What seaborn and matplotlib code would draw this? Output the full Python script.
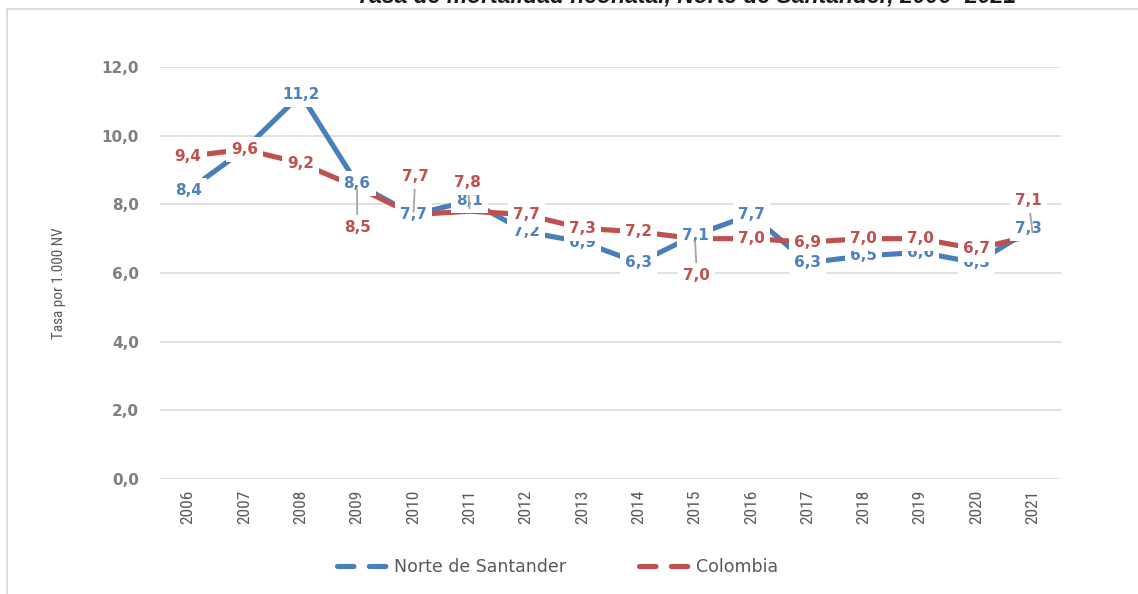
import matplotlib
matplotlib.use("Agg")
import matplotlib.pyplot as plt
from matplotlib.lines import Line2D
from matplotlib import font_manager
import seaborn as sns
import pandas as pd

# ---- data ----
years = [2006, 2007, 2008, 2009, 2010, 2011, 2012, 2013, 2014, 2015,
         2016, 2017, 2018, 2019, 2020, 2021]
norte = [8.4, 9.6, 11.2, 8.6, 7.7, 8.1, 7.2, 6.9, 6.3, 7.1,
         7.7, 6.3, 6.5, 6.6, 6.3, 7.3]
colombia = [9.4, 9.6, 9.2, 8.5, 7.7, 7.8, 7.7, 7.3, 7.2, 7.0,
            7.0, 6.9, 7.0, 7.0, 6.7, 7.1]
series_names = ["Norte de Santander", "Colombia"]
yticks = [0, 2, 4, 6, 8, 10, 12]
title = "Tasa de mortalidad neonatal, Norte de Santander, 2006- 2021"
ylabel = "Tasa por 1.000 NV"

# label offsets (points) - styling
blue_off = {2021: (-3, 0)}
red_off = {2009: (0, -28.8), 2010: (1.4, 27.4), 2011: (-1.4, 20.9),
           2015: (1.4, -26.6), 2021: (-3, 25)}

BLUE = "#4A7EBB"
RED = "#C0504D"
BLUE_T = "#4F81BD"
GRID = "#D9D9D9"

# pick a condensed font if one is installed
narrow_kw = dict(family="DejaVu Sans")
names = {f.name for f in font_manager.fontManager.ttflist}
for cand in ["Liberation Sans Narrow", "Arial Narrow", "Roboto Condensed",
             "DejaVu Sans Condensed", "Open Sans Condensed"]:
    if cand in names:
        narrow_kw = dict(family=cand)
        break
else:
    for f in font_manager.fontManager.ttflist:
        if f.name == "DejaVu Sans" and "condensed" in str(f.stretch).lower():
            narrow_kw = dict(family="DejaVu Sans", stretch="condensed")
            break
        if f.name in ("Roboto", "Open Sans") and "condensed" in str(f.stretch).lower():
            narrow_kw = dict(family=f.name, stretch="condensed")
            break

sns.set_theme(style="white")
plt.rcParams["font.family"] = ["DejaVu Sans"]

df = pd.DataFrame({
    "year": years * 2,
    "valor": norte + colombia,
    "serie": [series_names[0]] * len(years) + [series_names[1]] * len(years),
})

W, H = 1138, 594
fig = plt.figure(figsize=(W / 100, H / 100), dpi=100)
ax = fig.add_axes([160 / W, 1 - 479 / H, (1061 - 160) / W, (479 - 67) / H])

sns.lineplot(data=df, x="year", y="valor", hue="serie",
             palette={series_names[0]: BLUE, series_names[1]: RED},
             hue_order=[series_names[0], series_names[1]],
             linewidth=3.7, legend=False, ax=ax, zorder=3,
             solid_capstyle="butt")

ax.set_xlim(years[0] - 0.5, years[-1] + 0.5)
ax.set_ylim(0, 12)
ax.set_yticks(yticks)
ax.set_yticklabels([f"{v:.1f}".replace(".", ",") for v in yticks],
                   color="#7F7F7F", fontsize=11, fontweight="bold")
ax.set_xticks(years)
ax.set_xticklabels([str(y) for y in years], rotation=90, color="#595959",
                   fontsize=12.5, **narrow_kw)
ax.tick_params(axis="y", length=0, pad=15)
ax.tick_params(axis="x", length=0, pad=8)
ax.grid(axis="y", color=GRID, lw=1.1, zorder=0)
ax.grid(axis="x", visible=False)
for s in ax.spines.values():
    s.set_visible(False)
ax.set_xlabel("")
ax.set_ylabel(ylabel, fontsize=11, color="#595959", **narrow_kw)
ax.yaxis.set_label_coords(-0.104, 0.476)


def fmt(v):
    return f"{v:.1f}".replace(".", ",")


def label(x, v, color, off, z):
    dx, dy = off
    kw = dict(xy=(x, v), xytext=(dx, dy), textcoords="offset points",
              ha="center", va="center", color=color, fontsize=11,
              fontweight="bold", zorder=z,
              bbox=dict(boxstyle="square,pad=0.33", fc="white", ec="none"))
    if abs(dy) > 5:
        kw["arrowprops"] = dict(arrowstyle="-", color="#A6A6A6", lw=1.3,
                                shrinkA=0, shrinkB=2)
    ax.annotate(fmt(v), **kw)


for y, v in zip(years, norte):
    label(y, v, BLUE_T, blue_off.get(y, (0, 0)), 5)
for y, v in zip(years, colombia):
    label(y, v, RED, red_off.get(y, (0, 0)), 6)

# title (cut at the top like the reference)
fig.text(0.603, 1 - 2 / H, title, ha="center", va="baseline",
         family=["Liberation Sans", "DejaVu Sans"], fontsize=16.5,
         fontweight="bold", fontstyle="italic", color="#1a1a1a")

# chart-area frame (left and top only visible)
fig.add_artist(Line2D([6.5 / W, 6.5 / W], [0, 1 - 9 / H], color=GRID, lw=1.3,
                      transform=fig.transFigure))
fig.add_artist(Line2D([6.5 / W, 1], [1 - 9 / H, 1 - 9 / H], color=GRID, lw=1.3,
                      transform=fig.transFigure))

handles = [
    Line2D([], [], color=BLUE, lw=3.7, linestyle=(0, (3.2, 3.0)),
           dash_capstyle="round"),
    Line2D([], [], color=RED, lw=3.7, linestyle=(0, (3.2, 3.0)),
           dash_capstyle="round"),
]
leg = fig.legend(handles, series_names, loc="center", ncol=2,
                 bbox_to_anchor=(0.49, 1 - 567 / H), frameon=False,
                 handlelength=3.3, handletextpad=0.0, columnspacing=4.2,
                 fontsize=12.5)
for t in leg.get_texts():
    t.set_color("#595959")

fig.savefig("out.png", dpi=100, facecolor="white")
